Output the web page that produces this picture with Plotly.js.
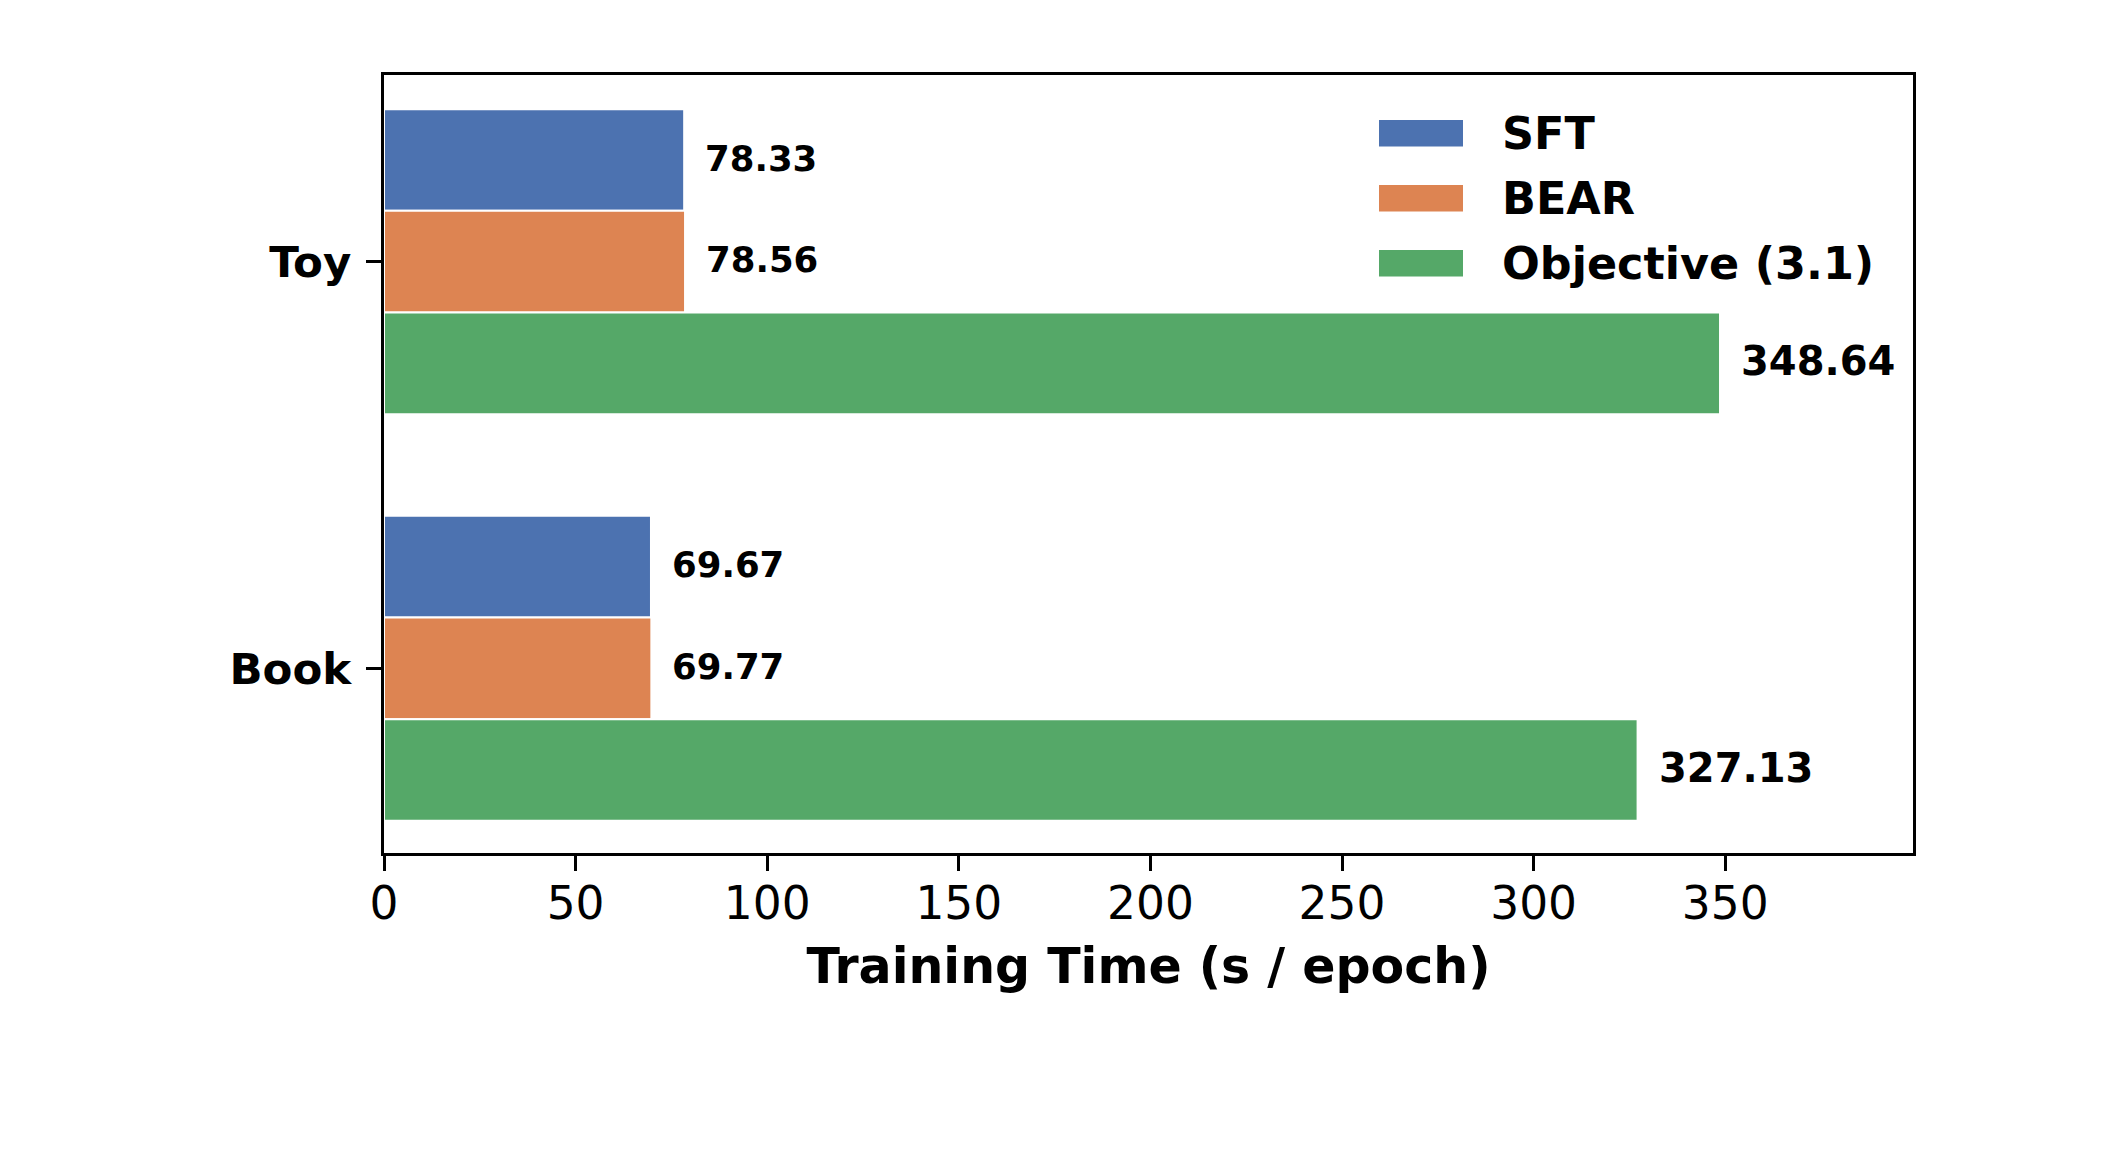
<!DOCTYPE html>
<html><head><meta charset="utf-8">
<script src="https://cdn.plot.ly/plotly-3.0.1.min.js"></script>
<style>html,body{margin:0;padding:0;background:#fff}#chart{width:2110px;height:1152px}</style>
</head><body><div id="chart"></div>
<script>
// ---- data ----
const categories = ["Toy", "Book"];
const seriesNames = ["SFT", "BEAR", "Objective (3.1)"];
const sftValues = [78.33, 69.67];
const bearValues = [78.56, 69.77];
const objectiveValues = [348.64, 327.13];
const xTickValues = [0, 50, 100, 150, 200, 250, 300, 350];
const xTitle = "Training Time (s / epoch)";

// ---- styles / layout ----
const seriesValues = [sftValues, bearValues, objectiveValues];
const colors = ["#4C72B0", "#DD8452", "#55A868"];
const barWidth = 0.25;
const offsets = [0.125, -0.125, -0.375];
const labelSizes = [35.5, 35.5, 40];
const categoryOrder = ["Book", "Toy"]; // bottom to top
const FONT = "DejaVu Sans, Verdana, sans-serif";

const traces = seriesValues.map((vals, i) => ({
  type: 'bar', orientation: 'h', name: seriesNames[i],
  y: categories, x: vals, width: barWidth, offset: offsets[i],
  marker: {color: colors[i], line: {color: '#ffffff', width: 2}},
  showlegend: false, hoverinfo: 'skip'
}));

const annotations = [];
seriesValues.forEach((vals, i) => {
  vals.forEach((v, j) => {
    annotations.push({
      xref: 'x', yref: 'y', x: v,
      y: categoryOrder.indexOf(categories[j]) + offsets[i] + barWidth / 2,
      text: v.toFixed(2), showarrow: false, xanchor: 'left', yanchor: 'middle',
      xshift: 19, yshift: 2,
      font: {family: FONT, size: labelSizes[i], color: '#000', weight: 'bold'}
    });
  });
});

// manual legend (wide matplotlib-style handles)
const plotL = 384, plotR = 1913, plotT = 75, plotB = 853;
const px2x = p => (p - plotL) / (plotR - plotL);
const px2y = p => (plotB - p) / (plotB - plotT);
const shapes = [];
const legendRowCenters = [133.3, 198.3, 263.3];
seriesNames.forEach((name, i) => {
  const c = legendRowCenters[i];
  shapes.push({type: 'rect', xref: 'paper', yref: 'paper',
    x0: px2x(1379), x1: px2x(1463), y0: px2y(c - 13.3), y1: px2y(c + 13.3),
    fillcolor: colors[i], line: {width: 0}});
  annotations.push({xref: 'paper', yref: 'paper', x: px2x(1500), y: px2y(c),
    text: name, showarrow: false, xanchor: 'left', yanchor: 'middle', yshift: 0,
    font: {family: FONT, size: 44.5, color: '#000', weight: 'bold'}});
});

const layout = {
  width: 2110, height: 1152,
  paper_bgcolor: '#fff', plot_bgcolor: '#fff',
  margin: {l: plotL, r: 2110 - plotR, t: plotT, b: 1152 - plotB, pad: 0},
  barmode: 'overlay',
  font: {family: FONT, color: '#000'},
  xaxis: {
    range: [0, 399], tickvals: xTickValues, ticktext: xTickValues.map(String),
    ticks: 'outside', ticklen: 15, tickwidth: 3, tickcolor: '#000',
    showline: true, linewidth: 3, linecolor: '#000', mirror: true,
    showgrid: false, zeroline: false, ticklabelstandoff: -7,
    tickfont: {family: FONT, size: 45.5, color: '#000'},
    title: {text: xTitle, standoff: 21,
      font: {family: FONT, size: 49, color: '#000', weight: 'bold'}}
  },
  yaxis: {
    type: 'category', categoryorder: 'array', categoryarray: categoryOrder,
    range: [-0.454, 1.459],
    ticks: 'outside', ticklen: 15, tickwidth: 3, tickcolor: '#000',
    showline: true, linewidth: 3, linecolor: '#000', mirror: true,
    showgrid: false, zeroline: false, ticklabelstandoff: 6,
    tickfont: {family: FONT, size: 43.5, color: '#000', weight: 'bold'}
  },
  shapes: shapes,
  annotations: annotations,
  showlegend: false
};

Plotly.newPlot('chart', traces, layout, {staticPlot: true, displayModeBar: false});
</script>
</body></html>
